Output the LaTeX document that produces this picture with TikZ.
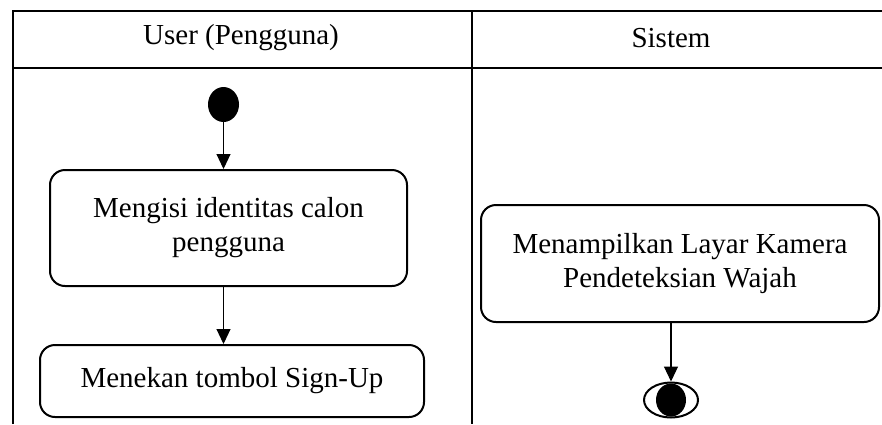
\documentclass[tikz,border=0pt]{standalone}
\usepackage{fontspec}
\setmainfont{Liberation Serif}
\usetikzlibrary{shapes.geometric,arrows.meta}
\tikzset{
  lane/.style={line width=2pt},
  act/.style={draw,line width=2pt,rounded corners=15pt,align=center,inner sep=0pt},
  flow/.style={->,line width=1.1pt},
}
\begin{document}
\begin{tikzpicture}[x=1pt,y=-1pt,>={Triangle[length=15pt,width=14pt]},font=\fontsize{29}{34}\selectfont]
\useasboundingbox (0,0) rectangle (882,424);
% lanes
    \draw[lane] (13,424)--(13,10.5)--(882,10.5);
    \draw[lane] (13,68)--(882,68);
    \draw[lane] (472,10.5)--(472,424);
    \node (user) at (241,38){User (Pengguna)};
    \node (sistem) at (671,38){Sistem};
% user
    \node[ellipse,fill,minimum width=31pt,minimum height=35pt,inner sep=0pt] (start) at (223.5,104.5){};
    \node[act,minimum width=357pt,minimum height=116pt] (isi) at (228.5,228){Mengisi identitas calon\\pengguna};
    \node[act,minimum width=384pt,minimum height=72pt] (tekan) at (232,381){Menekan tombol Sign-Up};
% sistem
    \node[act,minimum width=398pt,minimum height=117pt] (kamera) at (680,263.5){Menampilkan Layar Kamera\\Pendeteksian Wajah};
    \node[ellipse,draw,line width=2pt,minimum width=54pt,minimum height=35pt,inner sep=0pt] (akhir) at (671,400){};
    \node[ellipse,fill,minimum width=30pt,minimum height=33pt,inner sep=0pt] (akhirdalam) at (akhir){};
% arrows
    \draw[flow] (start)--(start|-isi.north);
    \draw[flow] (start|-isi.south)--(start|-tekan.north);
    \draw[flow] (kamera.south-|akhir)--(akhir);
\end{tikzpicture}
\end{document}
